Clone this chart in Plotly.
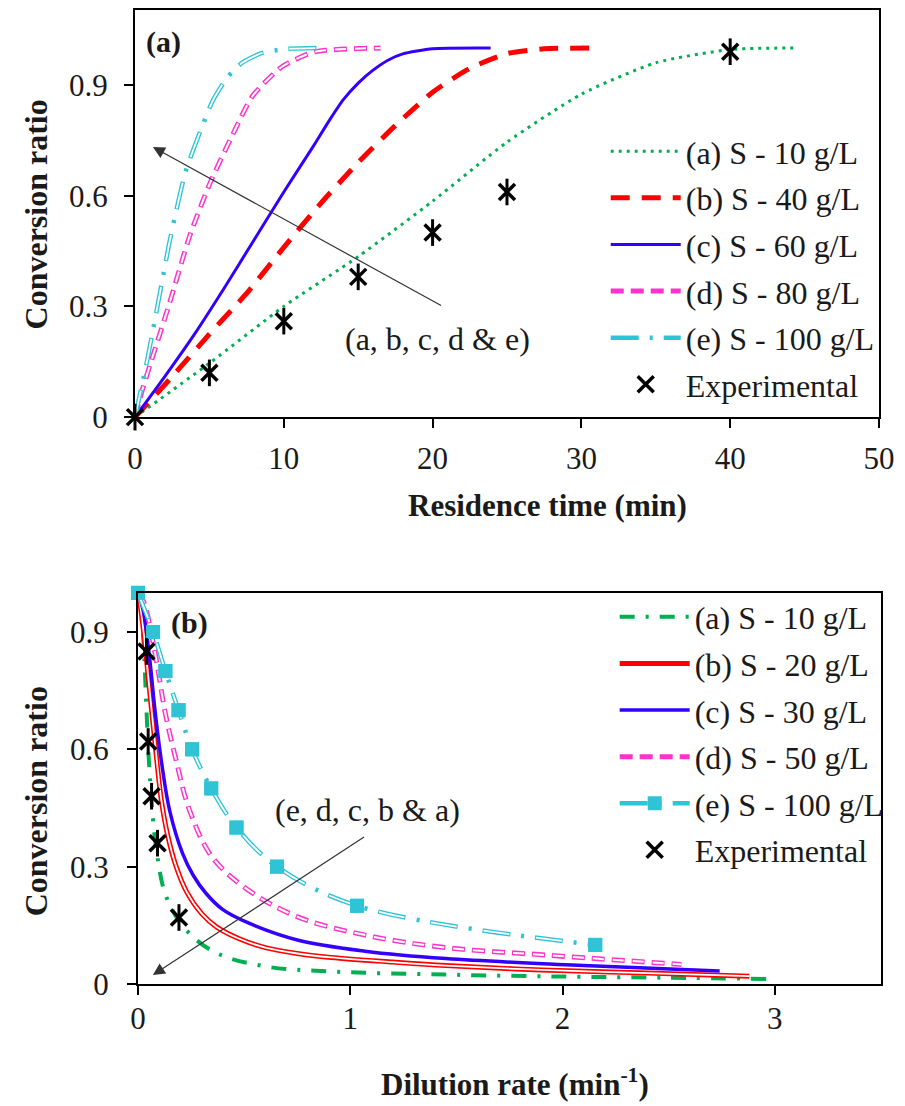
import plotly.graph_objects as go

FONT = "'Times New Roman', 'Liberation Serif', Tinos, 'DejaVu Serif', serif"
TXT = "#1a1a1a"

# ---------------- Panel (a): conversion vs residence time ----------------
a_exp_t = [0, 5, 10, 15, 20, 25, 40]
a_exp_x = [0, 0.12, 0.26, 0.38, 0.50, 0.61, 0.99]

a10_t = [0, 5, 10, 15, 20, 25, 30, 35, 40, 44.5]
a10_x = [0, 0.146, 0.30, 0.435, 0.585, 0.745, 0.875, 0.96, 0.996, 1.0]

a40_t = [0, 2.5, 5, 7.5, 10, 12.5, 15, 17.5, 20, 22.5, 25, 27.5, 31]
a40_x = [0, 0.11, 0.225, 0.335, 0.46, 0.58, 0.69, 0.79, 0.88, 0.945, 0.985, 0.998, 1.0]

a60_t = [0, 2, 4, 6, 8, 10, 12, 13, 14, 15, 16, 17, 18, 20, 23.9]
a60_x = [0, 0.11, 0.225, 0.35, 0.48, 0.61, 0.735, 0.80, 0.86, 0.905, 0.94, 0.967, 0.984, 0.998, 1.0]

a80_t = [0, 0.5, 1, 2.33, 3.67, 5, 6.5, 7.9, 9.9, 12.1, 16.5]
a80_x = [0, 0.075, 0.14, 0.31, 0.49, 0.63, 0.76, 0.87, 0.95, 0.99, 1.0]

a100_t = [0, 0.8, 1.6, 2.4, 3.4, 4.3, 5.2, 6.2, 7.2, 8.5, 10, 12.2]
a100_x = [0, 0.15, 0.32, 0.49, 0.665, 0.765, 0.855, 0.92, 0.96, 0.986, 0.997, 1.0]

a_names = ["(a) S - 10 g/L", "(b) S - 40 g/L", "(c) S - 60 g/L",
           "(d) S - 80 g/L", "(e) S - 100 g/L", "Experimental"]
a_xticks = [0, 10, 20, 30, 40, 50]
a_yticks = [0, 0.3, 0.6, 0.9]
a_yticklabels = ["0", "0.3", "0.6", "0.9"]

# ---------------- Panel (b): conversion vs dilution rate ----------------
b_exp_d = [0.04, 0.048, 0.064, 0.092, 0.193]
b_exp_x = [0.85, 0.62, 0.48, 0.36, 0.17]

b10_d = [0, 0.012, 0.025, 0.04, 0.056, 0.087, 0.134, 0.227, 0.367, 0.6, 0.91, 1.45, 2.0, 2.5, 2.96]
b10_x = [1.0, 0.96, 0.885, 0.70, 0.53, 0.342, 0.222, 0.138, 0.08, 0.045, 0.032, 0.024, 0.019, 0.016, 0.013]

b20_d = [0, 0.01, 0.02, 0.04, 0.064, 0.087, 0.11, 0.14, 0.18, 0.23, 0.3, 0.37, 0.48, 0.6, 0.75, 0.91, 1.2, 1.45, 1.9, 2.4, 2.88]
b20_x = [1.0, 0.97, 0.93, 0.83, 0.70, 0.58, 0.47, 0.38, 0.30, 0.235, 0.18, 0.146, 0.115, 0.093, 0.078, 0.068, 0.056, 0.047, 0.036, 0.028, 0.02]

b30_d = [0, 0.025, 0.056, 0.08, 0.11, 0.149, 0.21, 0.26, 0.32, 0.4, 0.52, 0.755, 1.07, 1.45, 2.07, 2.74]
b30_x = [1.0, 0.954, 0.827, 0.70, 0.571, 0.444, 0.334, 0.278, 0.232, 0.19, 0.156, 0.112, 0.084, 0.065, 0.048, 0.033]

b50_d = [0, 0.02, 0.04, 0.087, 0.126, 0.18, 0.243, 0.35, 0.52, 0.755, 1.07, 1.45, 1.92, 2.56]
b50_x = [1.0, 0.985, 0.954, 0.827, 0.70, 0.571, 0.444, 0.324, 0.24, 0.171, 0.125, 0.093, 0.074, 0.05]

b100_d = [0, 0.071, 0.129, 0.191, 0.255, 0.345, 0.464, 0.655, 1.032, 2.154]
b100_x = [1.0, 0.9, 0.8, 0.7, 0.6, 0.5, 0.4, 0.3, 0.2, 0.1]

b_names = ["(a) S - 10 g/L", "(b) S - 20 g/L", "(c) S - 30 g/L",
           "(d) S - 50 g/L", "(e) S - 100 g/L", "Experimental"]
b_xticks = [0, 1, 2, 3]
b_yticks = [0, 0.3, 0.6, 0.9]
b_yticklabels = ["0", "0.3", "0.6", "0.9"]

GREEN = "#00B050"
RED = "#FF0000"
BLUE = "#3300FF"
MAGENTA = "#FF33CC"
CYAN = "#2EC4D6"

fig = go.Figure()


def line(x, y, name, color, width, dash, xa, ya, leg, group, inner=None, marker=None, smooth=0.6):
    kw = dict(mode="lines+markers" if marker else "lines")
    fig.add_trace(go.Scatter(
        x=x, y=y, name=name, xaxis=xa, yaxis=ya, legend=leg, legendgroup=group,
        line=dict(color=color, width=width, dash=dash, shape="spline", smoothing=smooth),
        marker=marker, cliponaxis=False, **kw))
    if inner:
        fig.add_trace(go.Scatter(
            x=x, y=y, xaxis=xa, yaxis=ya, legend=leg, legendgroup=group, showlegend=False,
            mode="lines", hoverinfo="skip",
            line=dict(color="white", width=inner[0], dash=inner[1], shape="spline", smoothing=smooth),
            cliponaxis=False))
        if marker:
            fig.add_trace(go.Scatter(
                x=x, y=y, xaxis=xa, yaxis=ya, legend=leg, legendgroup=group, showlegend=False,
                mode="markers", hoverinfo="skip", marker=marker, cliponaxis=False))


def experimental(x, y, xa, ya, leg, group):
    fig.add_trace(go.Scatter(
        x=x, y=y, name="Experimental", mode="markers", xaxis=xa, yaxis=ya, legend=leg,
        legendgroup=group, cliponaxis=False,
        marker=dict(symbol="x-thin-open", size=16, color="black",
                    line=dict(color="black", width=3.5))))
    fig.add_trace(go.Scatter(
        x=x, y=y, mode="markers", xaxis=xa, yaxis=ya, legend=leg, showlegend=False,
        legendgroup=group, cliponaxis=False, hoverinfo="skip",
        marker=dict(symbol="line-ns-open", size=19, color="black",
                    line=dict(color="black", width=3))))


# panel (a) traces
line(a10_t, a10_x, a_names[0], GREEN, 3, "3px,5px", "x", "y", "legend", "a1")
line(a40_t, a40_x, a_names[1], RED, 5, "19px,12px", "x", "y", "legend", "a2")
line(a60_t, a60_x, a_names[2], BLUE, 3, "solid", "x", "y", "legend", "a3")
line(a80_t, a80_x, a_names[3], MAGENTA, 5, "13px,7px", "x", "y", "legend", "a4",
     inner=(2, "0px,1px,11px,8px"))
line(a100_t, a100_x, a_names[4], CYAN, 4.5, "28px,11px,3px,11px", "x", "y", "legend", "a5",
     inner=(1.8, "0px,1px,26px,26px"))
experimental(a_exp_t, a_exp_x, "x", "y", "legend", "a6")

# panel (b) traces
line(b10_d, b10_x, b_names[0], GREEN, 4, "15px,11px,3px,11px", "x2", "y2", "legend2", "b1", smooth=1.0)
line(b20_d, b20_x, b_names[1], RED, 5, "solid", "x2", "y2", "legend2", "b2", inner=(1.8, "solid"), smooth=1.0)
line(b30_d, b30_x, b_names[2], BLUE, 3.5, "solid", "x2", "y2", "legend2", "b3", smooth=1.0)
line(b50_d, b50_x, b_names[3], MAGENTA, 5, "13px,7px", "x2", "y2", "legend2", "b4",
     inner=(2, "0px,1px,11px,8px"), smooth=1.0)
line(b100_d, b100_x, b_names[4], CYAN, 4.5, "28px,11px,3px,11px", "x2", "y2", "legend2", "b5",
     inner=(1.8, "0px,1px,26px,26px"),
     marker=dict(symbol="square", size=14, color=CYAN), smooth=1.0)
experimental(b_exp_d, b_exp_x, "x2", "y2", "legend2", "b6")

axis_common = dict(showline=True, mirror=True, linecolor="black", linewidth=2,
                   ticks="outside", ticklen=9, tickwidth=2, tickcolor="black",
                   showgrid=False, zeroline=False,
                   tickfont=dict(family=FONT, size=31, color=TXT))

legend_common = dict(xanchor="left", yanchor="top", bgcolor="rgba(0,0,0,0)",
                     font=dict(family=FONT, size=32, color=TXT), itemwidth=70,
                     tracegroupgap=2, traceorder="grouped", borderwidth=0)

fig.update_layout(
    width=905, height=1106, margin=dict(l=135, r=17, t=8, b=122),
    paper_bgcolor="white", plot_bgcolor="white", showlegend=True,
    xaxis=dict(domain=[0, 0.9973], range=[0, 50], tickvals=a_xticks, anchor="y",
               ticklabelstandoff=4, **axis_common),
    yaxis=dict(domain=[0.582, 1], range=[0, 1.103], tickvals=a_yticks, ticktext=a_yticklabels,
               anchor="x", ticklabelstandoff=10, **axis_common),
    xaxis2=dict(domain=[0.004, 1], range=[0, 3.5], tickvals=b_xticks, anchor="y2",
                ticklabelstandoff=-3, **axis_common),
    yaxis2=dict(domain=[0, 0.4016], range=[0, 1.0], tickvals=b_yticks, ticktext=b_yticklabels,
                anchor="x2", ticklabelstandoff=12, **axis_common),
    legend=dict(x=0.631, y=0.883, **legend_common),
    legend2=dict(x=0.643, y=0.405, **legend_common),
)

ann = [
    dict(text="<b>Conversion ratio</b>", x=-0.1328, y=0.79, textangle=-90, size=32),
    dict(text="<b>Conversion ratio</b>", x=-0.1328, y=0.1875, textangle=-90, size=32),
    dict(text="<b>Residence time (min)</b>", x=0.5525, y=0.4908, size=31),
    dict(text="<b>Dilution rate (min<sup>-1</sup>)</b>", x=0.51, y=-0.1014, size=31),
    dict(text="<b>(a)</b>", x=0.0385, y=0.9672, size=30),
    dict(text="<b>(b)</b>", x=0.073, y=0.371, size=30),
]
for a in ann:
    size = a.pop("size")
    fig.add_annotation(xref="paper", yref="paper", xanchor="center", yanchor="middle",
                       showarrow=False, font=dict(family=FONT, size=size, color=TXT), **a)

# arrows and arrow labels
fig.add_annotation(x=1.2, y=0.732, ax=20.67, ay=0.30, xref="x", yref="y", axref="x", ayref="y",
                   text="", showarrow=True, arrowhead=2, arrowsize=2, arrowwidth=1.2,
                   arrowcolor="#333333", standoff=0)
fig.add_annotation(x=20.33, y=0.211, xref="x", yref="y", text="(a, b, c, d &amp; e)",
                   showarrow=False, font=dict(family=FONT, size=32, color=TXT))
fig.add_annotation(x=0.07, y=0.023, ax=1.072, ay=0.378, xref="x2", yref="y2", axref="x2", ayref="y2",
                   text="", showarrow=True, arrowhead=2, arrowsize=2, arrowwidth=1.2,
                   arrowcolor="#333333", standoff=0)
fig.add_annotation(x=1.08, y=0.444, xref="x2", yref="y2", text="(e, d, c, b &amp; a)",
                   showarrow=False, font=dict(family=FONT, size=32, color=TXT))

fig.write_html("out.html")
